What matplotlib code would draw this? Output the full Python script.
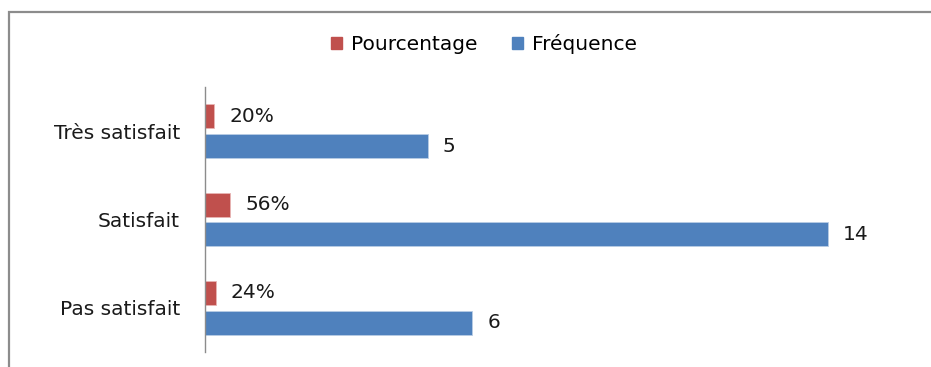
import matplotlib
matplotlib.use("Agg")
import matplotlib.pyplot as plt
from matplotlib.patches import Rectangle, Patch

categories = ["Très satisfait", "Satisfait", "Pas satisfait"]
frequence = [5, 14, 6]
pourcentage = [0.20, 0.56, 0.24]
pct_labels = ["20%", "56%", "24%"]

RED = "#C0504D"
BLUE = "#4F81BD"
FS = 14.5

W, H = 931, 367
fig = plt.figure(figsize=(W / 100, H / 100), dpi=100)

# outer chart border (top and left edges visible)
fig.patches.append(Rectangle((9 / W, -0.1), 1.2, 1 - 12 / H + 0.1,
                             transform=fig.transFigure, fill=False,
                             edgecolor="#8c8c8c", linewidth=1.6))

ax = fig.add_axes([205 / W, 15 / H, (917 - 205) / W, 265 / H])
ax.set_xlim(0, 16)
ax.set_ylim(2.5, -0.5)

ys = list(range(len(categories)))
h = 0.27
off = 0.168
ax.barh([y - off for y in ys], pourcentage, height=h, color=RED,
        edgecolor="#e8b5b4", linewidth=0.6)
ax.barh([y + off for y in ys], frequence, height=h, color=BLUE,
        edgecolor="#b9cde5", linewidth=0.6)

for y, v, lab in zip(ys, pourcentage, pct_labels):
    ax.annotate(lab, (v, y - off), xytext=(11, 0), textcoords="offset points",
                ha="left", va="center", fontsize=FS, color="#1a1a1a")
for y, v in zip(ys, frequence):
    ax.annotate(str(v), (v, y + off), xytext=(11, 0), textcoords="offset points",
                ha="left", va="center", fontsize=FS, color="#1a1a1a")

ax.set_yticks(ys)
ax.set_yticklabels(categories, fontsize=FS, color="#1a1a1a")
ax.tick_params(axis="y", length=0, pad=18)
ax.set_xticks([])
for s in ["top", "right", "bottom"]:
    ax.spines[s].set_visible(False)
ax.spines["left"].set_color("#8c8c8c")
ax.spines["left"].set_linewidth(1.0)

handles = [Patch(color=RED, label="Pourcentage"), Patch(color=BLUE, label="Fréquence")]
fig.legend(handles=handles, loc="center", bbox_to_anchor=(484 / W, 1 - 44 / H),
           ncol=2, frameon=False, fontsize=FS, handlelength=0.55, handleheight=0.55,
           handletextpad=0.45, columnspacing=1.7)

fig.savefig("out.png", dpi=100)
